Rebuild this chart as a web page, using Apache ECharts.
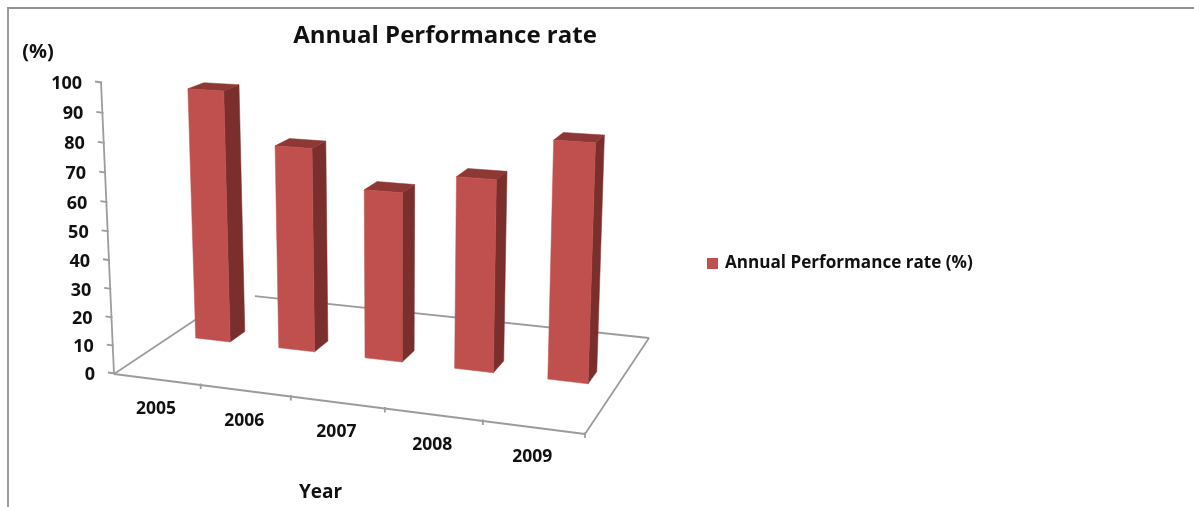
<!DOCTYPE html>
<html>
<head>
<meta charset="utf-8">
<style>html,body{margin:0;padding:0;background:#fff}#c{width:1194px;height:507px}</style>
<script src="https://cdn.jsdelivr.net/npm/echarts@6/dist/echarts.min.js"></script>
</head>
<body>
<div id="c"></div>
<script>
const years = ['2005', '2006', '2007', '2008', '2009'];
const rates = [91, 73, 60, 67, 81.5];
const yTicks = [0, 10, 20, 30, 40, 50, 60, 70, 80, 90, 100];
const titleText = 'Annual Performance rate';
const seriesName = 'Annual Performance rate (%)';

const FONT = '"Open Sans", Lato, sans-serif';
const INK = '#111';
const AXIS = '#9c9c9c';
const G = {left: 100, top: 83, width: 500, height: 292};

// perspective camera: floor corners and vanishing point of the verticals
const A = [114, 374], B = [585, 434], C = [649, 338], D = [234, 294], VP = [394, 6669];
const Htop = 83;
const dx1 = B[0] - C[0], dx2 = D[0] - C[0], sx = A[0] - B[0] + C[0] - D[0];
const dy1 = B[1] - C[1], dy2 = D[1] - C[1], sy = A[1] - B[1] + C[1] - D[1];
const den = dx1 * dy2 - dx2 * dy1;
const pg = (sx * dy2 - dx2 * sy) / den, ph = (dx1 * sy - sx * dy1) / den;
const pa = B[0] - A[0] + pg * B[0], pb = D[0] - A[0] + ph * D[0];
const pd = B[1] - A[1] + pg * B[1], pe = D[1] - A[1] + ph * D[1];
const lift = (Htop - A[1]) / (VP[1] - Htop);
function P(u, w, h) {
  const k = lift * (h || 0);
  const n = pg * u + ph * w + 1 + k;
  return [(pa * u + pb * w + A[0] + k * VP[0]) / n, (pd * u + pe * w + A[1] + k * VP[1]) / n];
}
const lineStyle = {stroke: AXIS, lineWidth: 1.8, fill: null};
const seg = (p, q) => ({type: 'line', shape: {x1: p[0], y1: p[1], x2: q[0], y2: q[1]}, style: lineStyle});
const toU = x => (x - G.left) / G.width;
const toH = y => (G.top + G.height - y) / G.height;

function renderFloor(params) {
  if (params.dataIndex !== 0) return {type: 'group', children: []};
  const c = P(1, 1), b = P(1, 0);
  return {type: 'group', children: [
    seg(P(0, 0), P(0, 1)),
    seg(P(0.055, 1), c),
    seg(P(0, 0), b),
    seg(b, c),
    seg(P(0, 0, 0), P(0, 0, 1))
  ]};
}
function renderYTick(params, api) {
  const h = toH(api.coord([0, api.value(0)])[1]);
  const p = P(0, 0, h);
  return {type: 'group', children: [
    seg([p[0] - 6, p[1] - 1.5], [p[0] + 1, p[1] - 0.5]),
    {type: 'text', style: {text: String(api.value(0)), x: p[0] - 19, y: p[1] + 1, textAlign: 'right', textVerticalAlign: 'middle',
      fontFamily: FONT, fontWeight: 'bold', fontSize: 18, fill: INK}}
  ]};
}
function renderXTick(params, api) {
  const i = api.value(0);
  const u = toU(api.coord([i, 0])[0]);
  const band = api.size([1, 0])[0] / G.width;
  const edge = P(u + band / 2, 0);
  const mid = P(u, 0);
  return {type: 'group', children: [
    seg([edge[0], edge[1] - 1.5], [edge[0], edge[1] + 4]),
    {type: 'text', style: {text: years[i], x: mid[0] - 1, y: mid[1] + 30, textAlign: 'center', textVerticalAlign: 'middle',
      fontFamily: FONT, fontWeight: 'bold', fontSize: 17.5, fill: INK}}
  ]};
}
const poly = (pts, fill, z2) => ({type: 'polygon', shape: {points: pts}, z2: z2, style: {fill: fill, stroke: fill, lineWidth: 0.5}});
function renderBar(params, api) {
  const c = api.coord([api.value(0), api.value(1)]);
  const u = toU(c[0]), h = toH(c[1]);
  const hw = api.size([1, 0])[0] * 0.42 / 2 / G.width;
  const w0 = 0.45, w1 = 0.58;
  const u0 = u - hw, u1 = u + hw;
  const fl0 = P(u0, w0), fr0 = P(u1, w0), br0 = P(u1, w1);
  const fl1 = P(u0, w0, h), fr1 = P(u1, w0, h), br1 = P(u1, w1, h), bl1 = P(u0, w1, h);
  return {type: 'group', children: [
    poly([fr0, br0, br1, fr1], '#7B2F2D', 1),
    poly([fl1, fr1, br1, bl1], '#8E3836', 1),
    poly([fl0, fr0, fr1, fl1], '#C0504D', 2)
  ]};
}

const chart = echarts.init(document.getElementById('c'));
chart.setOption({
  animation: false,
  backgroundColor: '#fff',
  title: {text: titleText, left: 440, top: 19, textAlign: 'center',
    textStyle: {fontFamily: FONT, fontWeight: 'bold', fontSize: 24, color: INK}},
  legend: {left: 702, top: 250, icon: 'rect', itemWidth: 11, itemHeight: 11, itemGap: 7, data: [seriesName],
    textStyle: {fontFamily: FONT, fontWeight: 'bold', fontSize: 17.1, color: INK, padding: [1, 0, 0, 2]}},
  grid: G,
  xAxis: {type: 'category', data: years, show: false},
  yAxis: {type: 'value', min: 0, max: 100, interval: 10, show: false},
  graphic: [
    {type: 'polyline', silent: true, shape: {points: [[8, 507], [8, 8], [1194, 8]]}, style: {stroke: '#929292', lineWidth: 1.8, fill: null}},
    {type: 'text', silent: true, style: {text: '(%)', x: 38, y: 52, textAlign: 'center', textVerticalAlign: 'middle', fontFamily: FONT, fontWeight: 'bold', fontSize: 20, fill: INK}},
    {type: 'text', silent: true, style: {text: 'Year', x: 320.5, y: 493, textAlign: 'center', textVerticalAlign: 'middle', fontFamily: FONT, fontWeight: 'bold', fontSize: 19, fill: INK}}
  ],
  series: [
    {type: 'custom', name: 'floor', silent: true, clip: false, z: 1, renderItem: renderFloor, data: [[0, 0]], encode: {x: 0, y: 1}},
    {type: 'custom', name: 'yticks', silent: true, clip: false, z: 1, renderItem: renderYTick, data: yTicks.map(v => [v]), encode: {y: 0}},
    {type: 'custom', name: 'xticks', silent: true, clip: false, z: 1, renderItem: renderXTick, data: years.map((y, i) => [i]), encode: {x: 0}},
    {type: 'custom', name: seriesName, clip: false, z: 2, renderItem: renderBar, itemStyle: {color: '#C0504D'},
      data: years.map((y, i) => [i, rates[i]]), encode: {x: 0, y: 1}}
  ]
});
</script>
</body>
</html>
